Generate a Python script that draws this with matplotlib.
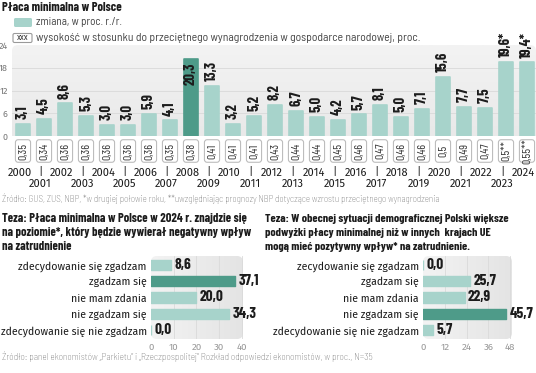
import matplotlib
matplotlib.use("Agg")
import matplotlib.pyplot as plt
import numpy as np
from matplotlib import font_manager as fm
from matplotlib.patches import FancyBboxPatch
from matplotlib.transforms import blended_transform_factory, ScaledTranslation
from matplotlib.colors import LinearSegmentedColormap

# ---------------- data ----------------
years = list(range(2000, 2025))
change = [3.1, 4.5, 8.6, 5.3, 3.0, 3.0, 5.9, 4.1, 20.3, 13.3, 3.2, 5.2, 8.2,
          6.7, 5.0, 4.2, 5.7, 8.1, 5.0, 7.1, 15.6, 7.7, 7.5, 19.6, 19.4]
change_notes = [""] * 23 + ["*", "*"]
ratio = [0.35, 0.34, 0.36, 0.36, 0.36, 0.36, 0.36, 0.35, 0.38, 0.41, 0.41, 0.41,
         0.43, 0.44, 0.44, 0.45, 0.46, 0.47, 0.46, 0.46, 0.5, 0.49, 0.47, 0.5, 0.55]
ratio_notes = [""] * 23 + ["**", "**"]
highlight_year = 2008
top_yticks = [0, 6, 12, 18, 24]

q1_cats = ["zdecydowanie się zgadzam", "zgadzam się", "nie mam zdania",
           "nie zgadzam się", "zdecydowanie się nie zgadzam"]
q1_vals = [8.6, 37.1, 20.0, 34.3, 0.0]
q1_highlight = 1
q1_ticks = [0, 10, 20, 30, 40]

q2_cats = ["zecydowanie się zgadzam", "zgadzam się", "nie mam zdania",
           "nie zgadzam się", "zdecydowanie się nie zgadzam"]
q2_vals = [0.0, 25.7, 22.9, 45.7, 5.7]
q2_highlight = 3
q2_ticks = [0, 12, 24, 36, 48]

title = "Płaca minimalna w Polsce"
legend1 = "zmiana, w proc. r./r."
legend2 = "wysokość w stosunku do przeciętnego wynagrodzenia w gospodarce narodowej, proc."
source1 = ("Źródło: GUS, ZUS, NBP, *w drugiej połowie roku, **uwzględniając prognozy NBP "
           "dotyczące wzrostu przeciętnego wynagrodzenia")
q1_title = ["Teza: Płaca minimalna w Polsce w 2024 r. znajdzie się",
            "na poziomie*, który będzie wywierał negatywny wpływ",
            "na zatrudnienie"]
q2_title = ["Teza: W obecnej sytuacji demograficznej Polski większe",
            "podwyżki płacy minimalnej niż w innych  krajach UE",
            "mogą mieć pozytywny wpływ* na zatrudnienie."]
source2 = ("Źródło: panel ekonomistów „Parkietu” i „Rzeczpospolitej” Rozkład odpowiedzi "
           "ekonomistów, w proc., N=35")

# ---------------- style ----------------
avail = {f.name for f in fm.fontManager.ttflist}
def pick(names):
    for n in names:
        if n in avail:
            return n
    return "DejaVu Sans"
NUMF = pick(["Barlow Condensed", "Roboto Condensed", "Liberation Sans Narrow", "Liberation Sans"])
HEADF = pick(["Barlow Condensed", "Roboto Condensed", "Fira Sans Condensed"])
SEMI = pick(["Barlow Semi Condensed", "Fira Sans Condensed", "Roboto Condensed", "Roboto"])
REG = pick(["Fira Sans", "Barlow", "Roboto", "Lato"])

LIGHT = "#a7d3cb"
DARK = "#4e9b89"
TXT = "#1c1c1c"

W, H = 536, 373
fig = plt.figure(figsize=(W / 100, H / 100), dpi=100)
fig.patch.set_facecolor("white")

def fx(px): return px / W
def fy(py): return 1 - py / H

def add_bg(ax, wpx, hpx, c0, c1, vertical, bottom_round=True, r=6):
    ax.patch.set_visible(False)
    rx = r / wpx
    ry = r / hpx
    y0 = 0 if bottom_round else -0.5
    patch = FancyBboxPatch((0, y0), 1, 1 - y0, boxstyle=f"round,pad=0,rounding_size={rx}",
                           mutation_aspect=ry / rx, transform=ax.transAxes,
                           fc="none", ec="none")
    ax.add_patch(patch)
    cmap = LinearSegmentedColormap.from_list("g", [c0, c1])
    if vertical:
        grad = np.linspace(1, 0, 64).reshape(-1, 1)
    else:
        grad = np.linspace(0, 1, 64).reshape(1, -1)
    im = ax.imshow(grad, extent=(0, 1, 0, 1), transform=ax.transAxes, aspect="auto",
                   cmap=cmap, zorder=0, origin="upper")
    im.set_clip_path(patch)
    return im

# ---------------- top chart ----------------
n = len(years)
pxw = 21.0
x0px, x1px = 12, 536
left_lim = -(23 - x0px) / pxw
right_lim = (n - 1) + (x1px - (23 + pxw * (n - 1))) / pxw

ax = fig.add_axes([fx(12), fy(136), fx(524), 91 / H])
add_bg(ax, 524, 91, "#e9e9e9", "#f3f3f3", vertical=True, bottom_round=False)
xs = np.arange(n)
colors = [DARK if y == highlight_year else LIGHT for y in years]
ax.bar(xs, change, width=0.66, color=colors, edgecolor=colors, linewidth=1.2,
       joinstyle="round", zorder=3)
ax.set_xlim(left_lim, right_lim)
ax.set_ylim(0, 24)
ax.set_yticks(top_yticks)
ax.set_yticklabels([str(t) for t in top_yticks])
ax.tick_params(axis="y", length=0, pad=3, labelsize=6.5, labelcolor="#7a7a7a")
for lab in ax.get_yticklabels():
    lab.set_family(REG)
ax.set_xticks([])
for s in ax.spines.values():
    s.set_visible(False)
for t in top_yticks[1:-1]:
    ax.axhline(t, color="#dcdcdc", lw=0.7, zorder=1)

for i, (v, note) in enumerate(zip(change, change_notes)):
    lab = f"{v:.1f}".replace(".", ",") + note
    if v >= 20:
        ax.annotate(lab, (i, v), xytext=(0, -2.5), textcoords="offset points",
                    rotation=90, ha="center", va="top", fontsize=10.5,
                    fontweight="bold", family=NUMF, color=TXT, zorder=4)
    else:
        ax.annotate(lab, (i, v), xytext=(0, 3.5), textcoords="offset points",
                    rotation=90, ha="center", va="bottom", fontsize=10.5,
                    fontweight="bold", family=NUMF, color=TXT, zorder=4,
                    annotation_clip=False)

# ratio boxes
axr = fig.add_axes([fx(12), fy(163), fx(524), 24 / H])
axr.set_xlim(left_lim, right_lim)
axr.set_ylim(0, 1)
axr.axis("off")
rs = 0.13
asp = (2.7 / 24) / rs
for i, (v, note) in enumerate(zip(ratio, ratio_notes)):
    axr.add_patch(FancyBboxPatch((i - 0.36, 0.03), 0.72, 0.94,
                                 boxstyle=f"round,pad=0,rounding_size={rs}",
                                 mutation_aspect=asp, fc="white", ec="#bdbdbd", lw=0.8))
    lab = f"{v:g}".replace(".", ",") + note
    axr.text(i, 0.5, lab, rotation=90, ha="center", va="center", fontsize=8.5,
             family=NUMF, color="#333333")

# years
tr = blended_transform_factory(ax.transData, fig.transFigure) + \
    ScaledTranslation(-3.5 / 100, 0, fig.dpi_scale_trans)
year_texts = []
for i, y in enumerate(years):
    if i % 2 == 0:
        year_texts.append(fig.text(i, fy(172.5), str(y), transform=tr, ha="center",
                                   va="center", fontsize=9, family=REG, color=TXT))
    else:
        year_texts.append(fig.text(i, fy(183.5), str(y), transform=tr, ha="center",
                                   va="center", fontsize=9, family=REG, color=TXT))
        year_texts.append(fig.text(i, fy(171.5), "|", transform=tr, ha="center",
                                   va="center", fontsize=9, family=REG, color=TXT))

# title & legend
t_title = fig.text(fx(2), fy(7.5), title, ha="left", va="center", fontsize=10,
                   fontweight="bold", family=HEADF, color=TXT)
fig.patches.append(FancyBboxPatch((14 / 100, (H - 27) / 100), 18 / 100, 9 / 100,
                                  boxstyle="round,pad=0,rounding_size=0.015",
                                  transform=fig.dpi_scale_trans, fc=LIGHT, ec="none",
                                  figure=fig))
fig.patches.append(FancyBboxPatch((13 / 100, (H - 42.5) / 100), 19 / 100, 9 / 100,
                                  boxstyle="round,pad=0,rounding_size=0.015",
                                  transform=fig.dpi_scale_trans, fc="white", ec="#9a9a9a",
                                  lw=0.8, figure=fig))
fig.text(fx(22.5), fy(38), "xxx", ha="center", va="center", fontsize=7.5,
         family=NUMF, color="#333333")
t_l1 = fig.text(fx(36), fy(22), legend1, ha="left", va="center", fontsize=9,
                family=SEMI, color="#444444")
t_l2 = fig.text(fx(36), fy(38), legend2, ha="left", va="center", fontsize=9,
                family=SEMI, color="#444444")
t_s1 = fig.text(fx(2), fy(199), source1, ha="left", va="center", fontsize=6,
                family=SEMI, color="#666666", fontweight="light")

# ---------------- bottom charts ----------------
def hbar(axb, wpx, cats, vals, hi, ticks, xmax):
    add_bg(axb, wpx, 83, "#f3f3f3", "#e4e4e4", vertical=False)
    ys = np.arange(len(cats))
    cols = [DARK if k == hi else LIGHT for k in range(len(cats))]
    axb.barh(ys, vals, height=0.62, color=cols, edgecolor=cols, linewidth=1.0,
             joinstyle="round", zorder=3)
    axb.set_xlim(0, xmax)
    axb.set_ylim(len(cats) - 1 + 0.55, -0.55)
    axb.set_yticks(ys)
    axb.set_yticklabels(cats)
    axb.set_xticks(ticks)
    axb.set_xticklabels([str(t) for t in ticks])
    axb.tick_params(axis="y", length=0, pad=3, labelsize=9.5, labelcolor=TXT)
    axb.tick_params(axis="x", length=0, pad=2.5, labelsize=7, labelcolor="#9a9a9a")
    for lab in axb.get_yticklabels():
        lab.set_family(REG)
    for lab in axb.get_xticklabels():
        lab.set_family(REG)
    for s in axb.spines.values():
        s.set_visible(False)
    for t in ticks[1:]:
        axb.axvline(t, color="#dadada", lw=0.6, zorder=1)
    for k, v in enumerate(vals):
        axb.annotate(f"{v:.1f}".replace(".", ","), (v, k), xytext=(2.5, 0),
                     textcoords="offset points", ha="left", va="center",
                     fontsize=11, fontweight="bold", family=NUMF, color=TXT,
                     annotation_clip=False, zorder=4)

ax1 = fig.add_axes([fx(151), fy(339), fx(92), 83 / H])
hbar(ax1, 92, q1_cats, q1_vals, q1_highlight, q1_ticks, 40.5)
ax2 = fig.add_axes([fx(423), fy(339), fx(89), 83 / H])
hbar(ax2, 89, q2_cats, q2_vals, q2_highlight, q2_ticks, 49)

t_q1 = [fig.text(fx(2), fy(219 + 14 * k), s, ha="left", va="center", fontsize=10,
                 fontweight="bold", family=HEADF, color=TXT) for k, s in enumerate(q1_title)]
t_q2 = [fig.text(fx(265), fy(219 + 14 * k), s, ha="left", va="center", fontsize=10,
                 fontweight="bold", family=HEADF, color=TXT) for k, s in enumerate(q2_title)]
t_s2 = fig.text(fx(2), fy(356), source2, ha="left", va="center", fontsize=6,
                family=SEMI, color="#666666", fontweight="light")

# ---------------- fit text widths to reference ----------------
fig.canvas.draw()
rend = fig.canvas.get_renderer()
def fit(texts, target):
    w = texts[0].get_window_extent(rend).width
    if w > 0:
        fs = texts[0].get_fontsize() * target / w
        for t in texts:
            t.set_fontsize(fs)

fit([t_title], 120)
fit([t_l1], 86)
fit([t_l2], 386)
fit([t_s1], 441)
fit(t_q1, 245)
fit(t_q2, 243)
fit([t_s2], 376)
fit(year_texts, 24)
lab0 = ax1.get_yticklabels()[0]
w0 = lab0.get_window_extent(rend).width
if w0 > 0:
    fs = lab0.get_fontsize() * 129 / w0
    ax1.tick_params(axis="y", labelsize=fs)
    ax2.tick_params(axis="y", labelsize=fs)

fig.savefig("out.png", dpi=100, facecolor="white")
